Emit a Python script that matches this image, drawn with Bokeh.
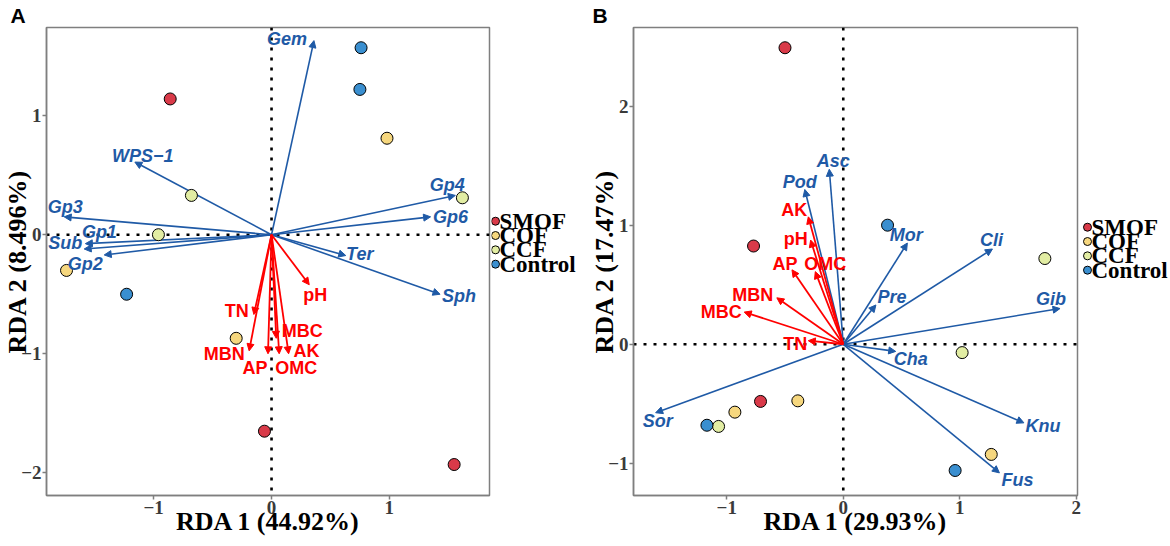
from bokeh.plotting import figure
from bokeh.models import Range1d, FixedTicker, Span, Arrow, NormalHead, ColumnDataSource
from bokeh.layouts import row
from bokeh.embed import file_html
from bokeh.resources import INLINE
from bokeh.core.properties import value

# ---------------- data ----------------
groups = ["SMOF", "COF", "CCF", "Control"]
group_colors = ["#D93A49", "#F6D77E", "#E2EDA3", "#3A8FD0"]

# Panel A: sample scores
a_smof_x = [-0.86, -0.06, 1.55]
a_smof_y = [1.14, -1.65, -1.93]
a_cof_x = [0.98, -1.74, -0.30]
a_cof_y = [0.81, -0.30, -0.87]
a_ccf_x = [-0.68, -0.96, 1.62]
a_ccf_y = [0.33, 0.00, 0.31]
a_ctrl_x = [0.76, 0.75, -1.23]
a_ctrl_y = [1.57, 1.22, -0.50]

# Panel A: taxa (blue arrows)
a_taxa = ["Gem", "WPS\u22121", "Gp3", "Gp1", "Sub", "Gp2", "Gp4", "Gp6", "Ter", "Sph"]
a_taxa_x = [0.36, -1.16, -1.76, -1.58, -1.59, -1.42, 1.56, 1.35, 0.63, 1.43]
a_taxa_y = [1.63, 0.61, 0.15, -0.075, -0.12, -0.17, 0.33, 0.15, -0.175, -0.50]

# Panel A: soil properties (red arrows)
a_env = ["pH", "TN", "MBN", "MBC", "AP", "OMC", "AK"]
a_env_x = [0.32, -0.15, -0.19, 0.04, -0.03, 0.065, 0.145]
a_env_y = [-0.42, -0.67, -0.975, -0.87, -1.00, -1.00, -1.00]

# Panel B: sample scores
b_smof_x = [-0.50, -0.77, -0.71]
b_smof_y = [2.49, 0.825, -0.48]
b_cof_x = [-0.93, -0.39, 1.27]
b_cof_y = [-0.57, -0.475, -0.925]
b_ccf_x = [-1.07, 1.02, 1.73]
b_ccf_y = [-0.69, -0.07, 0.72]
b_ctrl_x = [0.38, -1.17, 0.96]
b_ctrl_y = [1.00, -0.68, -1.06]

# Panel B: taxa (blue arrows)
b_taxa = ["Asc", "Pod", "Mor", "Cli", "Pre", "Gib", "Cha", "Knu", "Fus", "Sor"]
b_taxa_x = [-0.12, -0.33, 0.55, 1.28, 0.28, 1.86, 0.45, 1.55, 1.34, -1.61]
b_taxa_y = [1.47, 1.30, 0.85, 0.80, 0.33, 0.30, -0.06, -0.66, -1.08, -0.575]

# Panel B: soil properties (red arrows)
b_env = ["AK", "pH", "AP", "OMC", "MBN", "MBC", "TN"]
b_env_x = [-0.30, -0.28, -0.44, -0.24, -0.57, -0.85, -0.30]
b_env_y = [1.07, 0.875, 0.625, 0.61, 0.39, 0.27, 0.03]

a_xlabel = "RDA 1 (44.92%)"
a_ylabel = "RDA 2 (8.496%)"
b_xlabel = "RDA 1 (29.93%)"
b_ylabel = "RDA 2 (17.47%)"

# ---------------- label placement (pixel offsets from arrow tips) ----------------
a_taxa_dx = [-27, 8, 1, 14, -19, -19, -8, 20, 14, 19]
a_taxa_dy = [-2, -6, -10, -12, -6, 9, -10, 0, -2, 2]
a_env_dx = [6, -17, -25, 26, -13, 17, 18]
a_env_dy = [10, -3, 3, -7, 14, 14, -3]
b_taxa_dx = [4, -5, -1, -1, 16, -9, 15, 19, 18, 2]
b_taxa_dy = [-8, -7, -8, -9, -8, -10, 8, 3, 7, 8]
b_env_dx = [-14, -15, -7, 10, -24, -23, -13]
b_env_dy = [-7, -1, -6, -8, -3, 0, 3]

BLUE = "#1F5AA6"
RED = "#FF0000"
AXIS_GRAY = "#7F7F7F"
SERIF = "Liberation Serif"
SANS = "Liberation Sans"
MINUS = {-1: "\u22121", -2: "\u22122"}
H = 546


def make_panel(width, xr, yr, xticks, yticks, xlabel, ylabel, letter, borders, letter_x):
    left, right, top, bottom = borders
    p = figure(width=width, height=H, x_range=Range1d(*xr), y_range=Range1d(*yr),
               output_backend="svg", toolbar_location=None,
               min_border_left=left, min_border_right=right,
               min_border_top=top, min_border_bottom=bottom)
    p.grid.visible = False
    p.outline_line_color = AXIS_GRAY
    p.outline_line_width = 1.5
    p.background_fill_color = "white"
    p.border_fill_color = "white"
    for ax, ticks in ((p.xaxis, xticks), (p.yaxis, yticks)):
        ax.ticker = FixedTicker(ticks=ticks)
        ax.major_label_overrides = MINUS
        ax.axis_line_color = AXIS_GRAY
        ax.axis_line_width = 1.5
        ax.major_tick_line_color = AXIS_GRAY
        ax.major_tick_line_width = 1.5
        ax.major_tick_out = 4
        ax.major_tick_in = 0
        ax.minor_tick_line_color = None
        ax.major_label_text_font = SERIF
        ax.major_label_text_font_style = "bold"
        ax.major_label_text_font_size = "19px"
        ax.major_label_text_color = "#3A3A3A"
        ax.major_label_standoff = 1
        ax.axis_label_text_font = SERIF
        ax.axis_label_text_font_style = "bold"
        ax.axis_label_text_font_size = "26px"
        ax.axis_label_text_color = "black"
    p.xaxis.axis_label = xlabel
    p.yaxis.axis_label = ylabel
    p.xaxis.axis_label_standoff = -10
    p.yaxis.axis_label_standoff = -14

    for dim in ("height", "width"):
        p.add_layout(Span(location=0, dimension=dim, line_color="black", line_width=2.6,
                          line_dash="3 7", level="underlay"))

    # panel letter as the plot title, pulled left over the axis area
    p.title.text = letter
    p.title.align = "left"
    p.title.offset = -(left - letter_x)
    p.title.standoff = 2
    p.title.text_font = SANS
    p.title.text_font_style = "bold"
    p.title.text_font_size = "21px"
    p.title.text_color = "black"
    return p


def add_arrows(p, xs, ys, color, lw):
    n = len(xs)
    src = ColumnDataSource(dict(x0=[0] * n, y0=[0] * n, x1=xs, y1=ys))
    p.add_layout(Arrow(end=NormalHead(size=7, fill_color=color, line_color=color, line_width=1),
                       x_start="x0", y_start="y0", x_end="x1", y_end="y1", source=src,
                       line_color=color, line_width=lw, level="underlay"))


def add_labels(p, xs, ys, texts, dx, dy, color, style):
    p.text(x=xs, y=ys, text=texts, x_offset=dx, y_offset=dy, text_font=value(SANS),
           text_font_style=style, text_font_size="18px", text_color=color,
           text_align="center", text_baseline="middle")


def add_points(p, series):
    for (xs, ys), col in zip(series, group_colors):
        p.scatter(xs, ys, size=12, fill_color=col, line_color="black", line_width=1)


def make_legend(width, x0, top_px, step):
    n = len(groups)
    ys = [-i for i in range(n)]
    top_val = top_px / step
    p = figure(width=width, height=H, x_range=Range1d(-x0, width - x0),
               y_range=Range1d(top_val - H / step, top_val),
               output_backend="svg", toolbar_location=None,
               x_axis_location=None, y_axis_location=None,
               min_border_left=0, min_border_right=0, min_border_top=0, min_border_bottom=0)
    p.grid.visible = False
    p.outline_line_color = None
    p.scatter([0] * n, ys, size=8, fill_color=group_colors, line_color="black", line_width=1)
    p.text([0] * n, ys, text=groups, x_offset=4, text_font=value(SERIF), text_font_style="bold",
           text_font_size="23px", text_color="black", text_align="left", text_baseline="middle")
    return p


# ---------------- panel A ----------------
pA = make_panel(491, (-1.91, 1.85), (-2.19, 1.74), [-1, 0, 1], [-2, -1, 0, 1],
                a_xlabel, a_ylabel, "A", (44, 2, 24, 50), 8)
add_arrows(pA, a_taxa_x, a_taxa_y, BLUE, 1.6)
add_arrows(pA, a_env_x, a_env_y, RED, 1.8)
add_points(pA, [(a_smof_x, a_smof_y), (a_cof_x, a_cof_y), (a_ccf_x, a_ccf_y), (a_ctrl_x, a_ctrl_y)])
add_labels(pA, a_taxa_x, a_taxa_y, a_taxa, a_taxa_dx, a_taxa_dy, BLUE, "bold italic")
add_labels(pA, a_env_x, a_env_y, a_env, a_env_dx, a_env_dy, RED, "bold")
legA = make_legend(92, 4, 226, 16.7)

# ---------------- panel B ----------------
pB = make_panel(498, (-1.80, 2.01), (-1.27, 2.66), [-1, 0, 1, 2], [-1, 0, 1, 2],
                b_xlabel, b_ylabel, "B", (50, 4, 24, 51), 9)
add_arrows(pB, b_taxa_x, b_taxa_y, BLUE, 1.6)
add_arrows(pB, b_env_x, b_env_y, RED, 1.8)
add_points(pB, [(b_smof_x, b_smof_y), (b_cof_x, b_cof_y), (b_ccf_x, b_ccf_y), (b_ctrl_x, b_ctrl_y)])
add_labels(pB, b_taxa_x, b_taxa_y, b_taxa, b_taxa_dx, b_taxa_dy, BLUE, "bold italic")
add_labels(pB, b_env_x, b_env_y, b_env, b_env_dx, b_env_dy, RED, "bold")
legB = make_legend(89, 6, 233, 16.7)

layout = row(pA, legA, pB, legB)
open("out.html", "w").write(file_html(layout, INLINE))
